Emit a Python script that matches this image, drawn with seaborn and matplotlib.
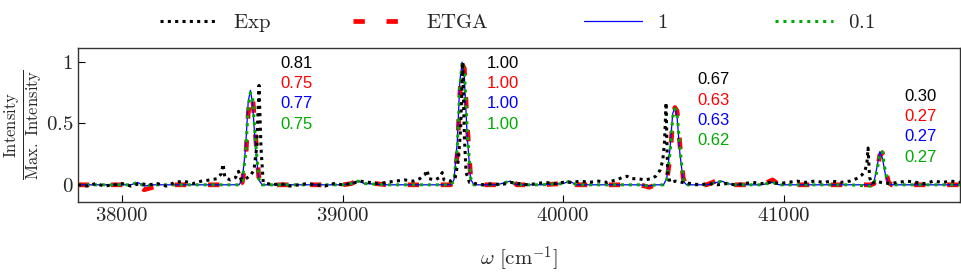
import numpy as np
import pandas as pd
import seaborn as sns
import matplotlib
matplotlib.use("Agg")
import matplotlib.pyplot as plt

# --- datos ---
# espectro experimental
exp_w = [37800, 37840, 37880, 37920, 37960, 38000, 38040, 38080, 38120, 38160,
         38200, 38240, 38280, 38320, 38360, 38400, 38430, 38450, 38458, 38466,
         38490, 38515, 38528, 38540, 38560, 38580, 38598, 38610, 38621, 38630,
         38640, 38680, 38720, 38760, 38800, 38840, 38880, 38920, 38960, 39000,
         39040, 39080, 39120, 39160, 39200, 39240, 39280, 39320, 39350, 39372,
         39383, 39392, 39420, 39440, 39452, 39460, 39490, 39510, 39525, 39535,
         39545, 39552, 39560, 39575, 39600, 39640, 39680, 39720, 39760, 39800,
         39840, 39880, 39920, 39960, 40000, 40040, 40080, 40120, 40160, 40200,
         40240, 40270, 40290, 40310, 40340, 40370, 40400, 40420, 40440, 40452,
         40460, 40467, 40474, 40485, 40510, 40540, 40580, 40620, 40660, 40700,
         40740, 40780, 40820, 40860, 40900, 40940, 40980, 41020, 41060, 41100,
         41140, 41180, 41220, 41260, 41300, 41330, 41355, 41370, 41378, 41383,
         41390, 41400, 41420, 41440, 41480, 41520, 41560, 41600, 41640, 41680,
         41720, 41760, 41800]
exp_i = [0.00, -0.01, 0.01, -0.01, 0.00, 0.01, -0.01, 0.01, 0.00, 0.01,
         -0.01, 0.02, 0.03, 0.01, 0.03, 0.04, 0.05, 0.09, 0.17, 0.06,
         0.04, 0.06, 0.11, 0.04, 0.05, 0.07, 0.12, 0.30, 0.81, 0.30,
         0.02, 0.00, 0.01, -0.01, 0.00, 0.01, 0.00, -0.01, 0.01, 0.00,
         0.01, 0.03, 0.02, 0.01, 0.02, 0.03, 0.04, 0.03, 0.05, 0.08,
         0.12, 0.05, 0.04, 0.06, 0.10, 0.04, 0.03, 0.05, 0.20, 0.45,
         1.00, 0.40, 0.10, 0.02, 0.01, 0.00, 0.01, 0.00, 0.02, 0.01,
         0.00, 0.01, 0.02, 0.01, 0.02, 0.02, 0.03, 0.02, 0.03, 0.02,
         0.04, 0.06, 0.07, 0.05, 0.05, 0.04, 0.05, 0.07, 0.12, 0.20,
         0.35, 0.67, 0.10, 0.02, 0.03, 0.02, 0.01, 0.00, 0.01, 0.00,
         0.01, 0.00, 0.01, 0.02, 0.01, 0.02, 0.01, 0.02, 0.03, 0.02,
         0.03, 0.02, 0.03, 0.02, 0.03, 0.05, 0.08, 0.12, 0.18, 0.30,
         0.06, 0.01, 0.03, 0.02, 0.01, 0.02, 0.03, 0.02, 0.01, 0.03,
         0.02, 0.03, 0.02]

# espectros simulados (misma malla)
sim_w = [37800, 37900, 38000, 38040, 38070, 38100, 38140, 38200, 38300, 38400,
         38480, 38530, 38545, 38560, 38572, 38582, 38592, 38605, 38620, 38635,
         38700, 38800, 38900, 39000, 39040, 39070, 39100, 39200, 39300, 39400,
         39490, 39505, 39520, 39532, 39542, 39552, 39565, 39580, 39595, 39700,
         39760, 39790, 39900, 40000, 40030, 40060, 40150, 40250, 40350, 40390,
         40420, 40455, 40470, 40485, 40497, 40507, 40517, 40530, 40545, 40560,
         40650, 40720, 40745, 40780, 40900, 40950, 40980, 41100, 41200, 41300,
         41395, 41410, 41424, 41436, 41448, 41462, 41476, 41490, 41600, 41700,
         41800]
etga_i = [0.00, 0.00, 0.00, 0.00, 0.00, -0.04, -0.02, 0.00, 0.00, 0.00,
          0.00, 0.00, 0.02, 0.20, 0.58, 0.74, 0.72, 0.40, 0.06, 0.00,
          0.00, 0.00, 0.00, 0.00, 0.01, 0.04, 0.02, 0.00, 0.00, 0.00,
          0.00, 0.02, 0.25, 0.75, 0.98, 0.95, 0.50, 0.08, 0.00, 0.00,
          0.05, 0.00, 0.00, 0.01, 0.05, 0.00, 0.00, 0.00, 0.00, -0.02,
          0.00, 0.00, 0.03, 0.22, 0.52, 0.63, 0.60, 0.32, 0.05, 0.00,
          0.00, 0.05, 0.01, 0.00, 0.00, 0.04, 0.00, 0.00, 0.00, 0.00,
          0.00, 0.01, 0.10, 0.24, 0.26, 0.12, 0.02, 0.00, 0.00, 0.00,
          0.00]
uno_i = [0.00, 0.00, 0.00, 0.00, 0.02, -0.01, 0.00, 0.00, 0.00, 0.00,
         0.00, 0.00, 0.04, 0.30, 0.68, 0.77, 0.66, 0.30, 0.04, 0.00,
         0.00, 0.00, 0.00, 0.00, 0.01, 0.03, 0.01, 0.00, 0.00, 0.00,
         0.00, 0.04, 0.35, 0.85, 1.00, 0.88, 0.40, 0.05, 0.00, 0.00,
         0.03, 0.00, 0.00, 0.01, 0.03, 0.00, 0.00, 0.00, 0.00, -0.01,
         0.00, 0.00, 0.05, 0.30, 0.58, 0.63, 0.55, 0.25, 0.03, 0.00,
         0.00, 0.03, 0.01, 0.00, 0.00, 0.02, 0.00, 0.00, 0.00, 0.00,
         0.00, 0.02, 0.15, 0.27, 0.22, 0.08, 0.01, 0.00, 0.00, 0.00,
         0.00]
cero1_i = [0.00, 0.00, 0.00, 0.00, 0.02, -0.01, 0.00, 0.00, 0.00, 0.00,
           0.00, 0.00, 0.03, 0.25, 0.63, 0.75, 0.70, 0.36, 0.05, 0.00,
           0.00, 0.00, 0.00, 0.00, 0.01, 0.03, 0.01, 0.00, 0.00, 0.00,
           0.00, 0.03, 0.30, 0.80, 1.00, 0.93, 0.45, 0.06, 0.00, 0.00,
           0.03, 0.00, 0.00, 0.01, 0.03, 0.00, 0.00, 0.00, 0.00, -0.01,
           0.00, 0.00, 0.04, 0.26, 0.55, 0.62, 0.58, 0.30, 0.04, 0.00,
           0.00, 0.03, 0.01, 0.00, 0.00, 0.02, 0.00, 0.00, 0.00, 0.00,
           -0.01, 0.01, 0.12, 0.25, 0.27, 0.10, 0.01, 0.00, 0.00, 0.00,
           0.00]

# intensidades relativas anotadas sobre cada pico
pico_x = [38716, 39655, 40607, 41550]
pico_y = [0.99, 0.99, 0.855, 0.72]
anot_exp = ["0.81", "1.00", "0.67", "0.30"]
anot_etga = ["0.75", "1.00", "0.63", "0.27"]
anot_uno = ["0.77", "1.00", "0.63", "0.27"]
anot_cero1 = ["0.75", "1.00", "0.62", "0.27"]

xticks = [38000, 39000, 40000, 41000]
yticks = [0, 0.5, 1]
ytick_labels = ["0", "0.5", "1"]
leyendas = ["Exp", "ETGA", "1", "0.1"]

# --- estilo ---
sns.set_style("ticks")
plt.rcParams["font.family"] = ["cmr10", "DejaVu Serif"]
plt.rcParams["mathtext.fontset"] = "cm"
plt.rcParams["axes.unicode_minus"] = False

verde = "#00aa00"

fig = plt.figure(figsize=(9.61, 2.75), dpi=100)
ax = fig.add_axes([78 / 961, 73 / 275, 882 / 961, 154 / 275])

df_exp = pd.DataFrame({"w": exp_w, "I": exp_i})
df_sim = pd.DataFrame({"w": sim_w, "ETGA": etga_i, "1": uno_i, "0.1": cero1_i})

sns.lineplot(data=df_exp, x="w", y="I", ax=ax, color="black", lw=2.2,
             linestyle=(0, (1, 1.4)), label=leyendas[0], zorder=5)
sns.lineplot(data=df_sim, x="w", y="ETGA", ax=ax, color="red", lw=3.4,
             linestyle=(0, (2.4, 4.6)), label=leyendas[1], zorder=3)
sns.lineplot(data=df_sim, x="w", y="1", ax=ax, color="blue", lw=0.9,
             label=leyendas[2], zorder=4)
sns.lineplot(data=df_sim, x="w", y="0.1", ax=ax, color=verde, lw=2.2,
             linestyle=(0, (1, 1.6)), label=leyendas[3], zorder=4)

# anotaciones
colores = ["black", "red", "blue", verde]
for k in range(len(pico_x)):
    filas = [anot_exp[k], anot_etga[k], anot_uno[k], anot_cero1[k]]
    for j, (txt, c) in enumerate(zip(filas, colores)):
        ax.text(pico_x[k], pico_y[k] - j * 0.165, txt, color=c, fontsize=12,
                family=["Liberation Sans", "DejaVu Sans"], va="center", ha="left")

ax.set_xlim(37800, 41800)
ax.set_ylim(-0.14, 1.115)
ax.set_xticks(xticks)
ax.set_xticklabels([r"$%d$" % t for t in xticks])
ax.set_yticks(yticks)
ax.set_yticklabels([r"$%s$" % t for t in ytick_labels])
ax.tick_params(direction="in", length=5, width=0.8, labelsize=15, color="black")
for s in ax.spines.values():
    s.set_linewidth(1.0)
    s.set_color("#333333")

ax.set_xlabel(r"$\omega\ [\mathrm{cm}^{-1}]$", fontsize=15, labelpad=14)
ax.set_ylabel(r"$\frac{\mathrm{Intensity}}{\mathrm{Max.\ Intensity}}$", fontsize=17)
ax.yaxis.set_label_coords(-0.039, 0.5)

# leyenda arriba, una entrada por columna
handles, labels = ax.get_legend_handles_labels()
ax.get_legend().remove()
inicio_px = [160, 353, 584, 775]
for h, l, x0 in zip(handles, labels, inicio_px):
    fig.legend([h], [r"$\mathrm{%s}$" % l], loc="center left",
               bbox_to_anchor=(x0 / 961, 0.916), frameon=False, fontsize=15,
               handlelength=2.8, handletextpad=0.7, borderpad=0, borderaxespad=0)

fig.savefig("out.png", dpi=100)
